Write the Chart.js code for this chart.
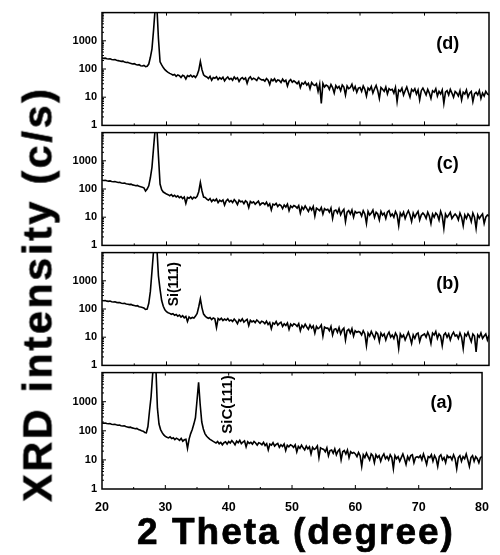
<!DOCTYPE html>
<html>
<head>
<meta charset="utf-8">
<script src="https://cdn.jsdelivr.net/npm/chart.js@4.4.0/dist/chart.umd.min.js"></script>
<style>
body{margin:0;background:#fff}
#wrap{position:relative;width:500px;height:555px;overflow:hidden;font-family:"Liberation Sans",Arial,sans-serif}
canvas{position:absolute;left:0}
.ttl{position:absolute;font-weight:bold;white-space:nowrap;line-height:1;color:#000;-webkit-text-stroke:0.7px #000}
#ytitle{left:38px;top:294px;font-size:41px;letter-spacing:2.8px;transform:translate(-50%,-50%) rotate(-90deg)}
#xtitle{left:296px;top:513px;font-size:37px;letter-spacing:2px;transform:translateX(-50%)}
</style>
</head>
<body>
<div id="wrap">
<canvas id="pd" width="500" height="136"></canvas>
<canvas id="pc" width="500" height="136"></canvas>
<canvas id="pb" width="500" height="136"></canvas>
<canvas id="pa" width="500" height="194"></canvas>
<div class="ttl" id="ytitle">XRD intensity (c/s)</div>
<div class="ttl" id="xtitle">2 Theta (degree)</div>
</div>
<script>
// 2theta from 20 to 80 deg, step 0.25
const STEP = 0.25;
const xTicks = [20, 30, 40, 50, 60, 70, 80];
const yTicks = [1, 10, 100, 1000, 10000];
const panelLabels = ['(d)', '(c)', '(b)', '(a)'];

const seriesD = [
  245,238,242,230,226,231,218,212,215,203,198,192,186,190,176,170,174,162,158,150,155,144,139,142,131,128,134,122,126,
  150,260,520,2500,15000,18000,1200,180,140,112,95,
  84,76,70,66,61,64,55,62,58,50,60,56,44,58,54,61,52,57,50,62,
  90,185,95,62,55,52,46,55,40,50,47,53,42,49,44,51,38,46,52,43,
  47,40,52,44,49,36,45,50,43,48,31,46,53,42,47,44,39,50,45,41,
  42,37,46,40,28,43,38,45,35,41,39,33,44,36,40,25,37,42,34,38,
  34,30,36,22,32,29,35,27,31,20,33,28,26,30,16,29,6,31,23,27,
  25,19,28,22,14,26,21,24,17,27,23,12,25,20,22,29,18,24,15,21,
  22,16,25,19,11,21,18,24,14,20,26,17,9,22,19,16,23,13,20,18,
  19,14,22,7,18,16,21,12,17,23,15,10,19,16,20,13,18,8,17,21,
  16,12,19,14,9,17,15,20,11,16,13,18,6,15,17,12,19,14,10,16,
  14,11,17,8,15,13,18,10,14,16,7,13,15,12,17,9,14,11,16,13,12
];
const seriesC = [
  205,200,203,196,190,194,185,181,184,176,170,173,164,160,162,154,150,146,149,140,136,131,134,124,120,116,110,85,100,
  130,250,600,3000,14000,16000,1500,150,95,78,72,
  66,63,58,64,55,60,52,57,49,54,46,52,31,50,47,53,44,51,48,55,
  80,170,85,52,50,44,40,46,36,42,38,44,33,40,36,41,27,38,43,35,
  39,33,42,36,28,40,35,37,30,38,34,22,36,32,35,29,33,37,27,31,
  32,28,34,25,30,18,29,27,31,24,28,26,20,27,23,29,17,25,22,26,
  24,21,26,14,23,19,25,20,16,22,18,24,11,21,19,17,22,13,20,18,
  19,15,21,9,17,18,14,20,12,16,19,7,15,17,13,18,10,16,14,15,
  15,11,17,13,6,16,12,14,18,10,15,13,8,16,12,14,9,15,17,11,
  13,10,16,12,5,14,11,15,9,13,17,12,7,14,10,13,16,8,12,14,
  12,9,15,11,6,13,10,14,12,8,16,11,4,13,10,12,15,9,11,13,
  11,8,14,10,5,12,9,13,11,7,14,10,4,12,9,11,13,6,10,12,11
];
const seriesB = [
  200,196,199,190,187,191,182,178,181,172,168,170,161,157,160,151,147,143,146,137,133,128,131,121,117,113,108,96,99,
  160,420,2200,12000,20000,16000,1500,500,200,125,93,
  80,74,70,65,68,60,64,56,61,52,58,49,55,36,52,46,50,48,56,70,
  120,230,110,66,56,50,47,50,42,48,45,22,46,41,47,39,44,40,46,38,
  41,36,44,38,30,42,37,45,34,39,43,26,40,35,38,33,41,36,31,37,
  35,30,37,28,33,20,32,29,36,27,31,34,24,30,26,32,19,29,25,30,
  28,24,30,17,26,22,29,23,19,27,21,25,14,24,20,22,27,11,23,21,
  21,17,24,12,19,20,15,22,13,18,21,8,17,19,14,20,11,17,15,16,
  15,12,17,13,5,14,11,16,12,9,15,13,7,14,11,13,8,12,15,10,
  12,9,14,11,4,13,10,12,8,11,15,10,6,12,9,13,14,7,11,12,
  13,10,15,11,6,14,12,16,9,13,11,5,12,14,10,13,8,12,15,11,
  12,9,14,10,4,13,11,15,10,7,13,11,3,12,10,14,9,11,13,8,12
];
const seriesA = [
  188,182,185,177,174,178,168,165,168,160,155,158,149,146,148,140,136,131,134,126,122,118,121,110,106,101,97,88,86,
  140,480,1500,9000,20000,16000,600,170,110,86,72,
  64,60,57,62,54,58,50,56,52,47,55,44,49,51,25,52,80,110,170,280,
  1100,4600,800,200,115,80,66,58,52,48,44,41,38,43,36,40,33,39,42,35,
  43,38,46,40,33,44,39,47,36,41,45,28,42,37,40,35,43,38,32,39,
  37,33,40,31,36,22,35,32,39,30,34,37,27,33,29,35,21,32,28,33,
  31,27,33,19,29,25,32,26,22,30,24,28,16,27,23,25,30,12,26,24,
  23,19,26,14,21,22,17,24,15,20,23,10,19,21,16,22,12,19,17,18,
  16,13,18,14,6,15,12,17,13,10,16,14,8,15,12,14,9,13,16,11,
  13,10,15,12,5,14,11,13,9,12,16,11,7,13,10,14,15,8,12,13,
  12,14,10,16,11,7,13,12,15,9,14,11,6,13,15,10,12,8,14,12,
  13,10,15,11,5,12,14,9,13,11,16,10,6,12,14,9,13,11,8,12,13
];

const FONT = '"Liberation Sans", Arial, sans-serif';
const PANEL_H = 120, PAD = 8;

const panels = [
  {id: 'pd', data: seriesD, label: panelLabels[0], top: 9,   ly: 740, notes: []},
  {id: 'pc', data: seriesC, label: panelLabels[1], top: 129, ly: 790, notes: []},
  {id: 'pb', data: seriesB, label: panelLabels[2], top: 249, ly: 790,
   notes: [{text: 'Si(111)', x: 31.2, y: 760, size: 14}]},
  {id: 'pa', data: seriesA, label: panelLabels[3], top: 369, ly: 900, last: true,
   notes: [{text: 'SiC(111)', x: 39.9, y: 800, size: 15}]}
];

// frame, inward ticks, panel letter and peak labels
const decor = {
  id: 'decor',
  afterDatasetsDraw(chart, args, opts) {
    const {ctx, chartArea: a, scales: {x, y}} = chart;
    ctx.save();
    ctx.strokeStyle = '#000';
    ctx.lineWidth = 1.5;
    ctx.strokeRect(a.left, a.top, a.right - a.left, a.bottom - a.top);
    ctx.lineWidth = 1;
    ctx.beginPath();
    for (let v = 25; v < 80; v += 5) {
      const px = x.getPixelForValue(v), len = v % 10 ? 2 : 4;
      ctx.moveTo(px, a.bottom); ctx.lineTo(px, a.bottom - len);
      ctx.moveTo(px, a.top); ctx.lineTo(px, a.top + len - 1);
    }
    for (let d = 1; d < 10000; d *= 10) {
      for (let m = 1; m < 10; m++) {
        if (d * m === 1) continue;
        const py = y.getPixelForValue(d * m), len = m === 1 ? 4 : 2;
        ctx.moveTo(a.left, py); ctx.lineTo(a.left + len, py);
      }
    }
    ctx.stroke();
    ctx.fillStyle = '#000';
    ctx.textAlign = 'center';
    ctx.textBaseline = 'middle';
    ctx.font = 'bold 18px ' + FONT;
    ctx.fillText(opts.label, x.getPixelForValue(73.6), y.getPixelForValue(opts.ly));
    for (const n of opts.notes) {
      ctx.save();
      ctx.translate(x.getPixelForValue(n.x), y.getPixelForValue(n.y));
      ctx.rotate(-Math.PI / 2);
      ctx.font = 'bold ' + n.size + 'px ' + FONT;
      ctx.fillText(n.text, 0, 0);
      ctx.restore();
    }
    ctx.restore();
  }
};

panels.forEach(p => {
  const cv = document.getElementById(p.id);
  const h = PAD + PANEL_H + (p.last ? 66 : PAD);
  cv.style.top = (p.top - PAD) + 'px';
  cv.height = h;
  new Chart(cv.getContext('2d'), {
    type: 'line',
    data: {
      datasets: [{
        data: p.data.map((v, i) => ({x: 20 + i * STEP, y: v})),
        borderColor: '#000',
        borderWidth: 1.6,
        pointRadius: 0,
        tension: 0,
        fill: false
      }]
    },
    options: {
      responsive: false,
      animation: false,
      events: [],
      layout: {padding: {top: PAD, right: 11, bottom: p.last ? 0 : PAD, left: 0}},
      plugins: {
        legend: {display: false},
        tooltip: {enabled: false},
        decor: {label: p.label, ly: p.ly, notes: p.notes}
      },
      scales: {
        x: {
          type: 'linear', min: 20, max: 80,
          afterBuildTicks: s => { s.ticks = xTicks.map(v => ({value: v})); },
          afterFit: s => { s.height = p.last ? 66 : 0; },
          grid: {display: false, drawTicks: false},
          border: {display: false},
          ticks: {display: !!p.last, padding: 11, maxRotation: 0, color: '#000',
                  font: {family: FONT, size: 12.5, weight: 'bold'}}
        },
        y: {
          type: 'logarithmic', min: 1, max: 10000,
          afterBuildTicks: s => { s.ticks = yTicks.map(v => ({value: v})); },
          afterFit: s => { s.width = 102; },
          grid: {display: false, drawTicks: false},
          border: {display: false},
          ticks: {padding: 5, color: '#000', font: {family: FONT, size: 11, weight: 'bold'},
                  callback: v => v < 10000 ? String(v) : ''}
        }
      }
    },
    plugins: [decor]
  });
});
</script>
</body>
</html>
